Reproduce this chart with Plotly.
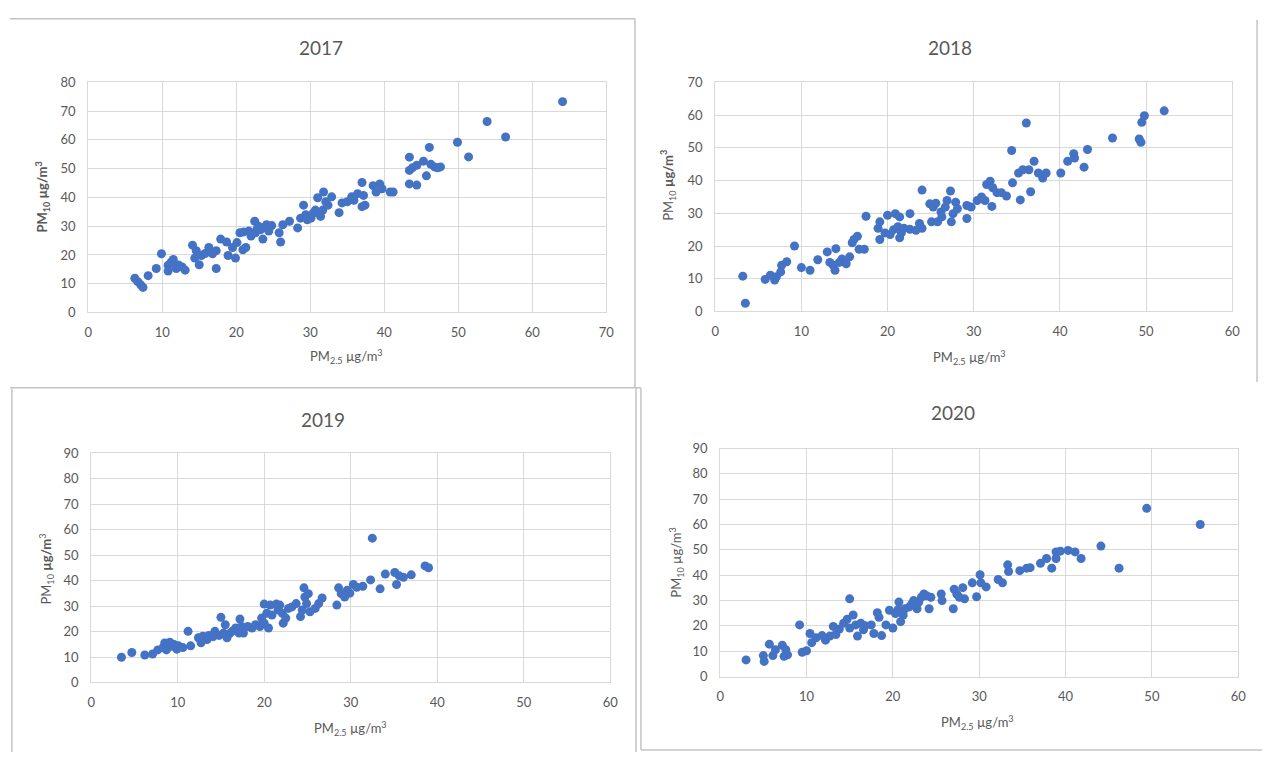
import plotly.graph_objects as go

# ---------------- data ----------------
years = ["2017", "2018", "2019", "2020"]

pm25_2017 = [6.3, 6.7, 7.1, 7.4, 8.1, 9.2, 9.9, 10.8, 10.8, 11.2, 11.5, 11.9, 12.7, 13.1, 14.1, 14.4,
             14.6, 15.0, 15.3, 16.3, 16.8, 17.3, 17.3, 17.9, 18.7, 18.9, 19.5, 19.9, 20.1, 20.5, 20.9,
             21.3, 21.7, 22.0, 22.5, 22.6, 23.0, 23.3, 23.6, 24.1, 24.4, 24.8, 25.8, 26.0, 26.3, 27.2,
             28.3, 28.7, 29.1, 29.4, 29.6, 30.1, 30.4, 30.7, 31.0, 31.4, 31.7, 31.8, 32.1, 32.4, 32.9,
             33.9, 34.3, 35.0, 35.6, 35.9, 36.4, 37.0, 37.0, 37.4, 37.2, 38.5, 38.9, 39.4, 39.7, 40.8,
             41.2, 43.4, 43.4, 43.4, 43.8, 44.4, 44.4, 45.3, 45.7, 46.1, 46.3, 46.8, 47.2, 47.6, 49.9,
             51.4, 53.9, 56.4, 64.1, 21.0, 22.8, 23.8, 12.2, 15.8]
pm10_2017 = [11.9, 10.7, 9.6, 8.7, 12.8, 15.3, 20.4, 14.4, 16.4, 17.5, 18.4, 15.3, 15.8, 14.7, 23.4, 18.9,
             21.5, 16.6, 19.8, 22.6, 20.4, 15.3, 21.5, 25.5, 24.5, 19.8, 22.6, 18.9, 24.3, 27.7, 21.8,
             22.6, 28.3, 26.6, 31.7, 27.7, 30.0, 28.8, 25.5, 30.5, 28.3, 30.2, 27.7, 24.5, 30.5, 31.7,
             29.4, 32.8, 37.3, 34.0, 32.2, 32.8, 34.5, 35.6, 39.9, 33.4, 35.6, 41.9, 38.5, 37.3, 40.2,
             34.7, 38.1, 38.5, 40.2, 39.0, 41.3, 45.2, 36.8, 37.3, 40.7, 44.1, 41.9, 44.7, 43.0, 41.9,
             41.9, 54.0, 44.7, 49.4, 50.3, 44.3, 51.2, 52.6, 47.5, 57.4, 51.5, 50.6, 50.3, 50.6, 59.2,
             54.1, 66.4, 61.0, 73.3, 28.0, 29.0, 29.5, 16.5, 20.5]

pm25_2018 = [3.2, 3.5, 5.8, 6.4, 6.9, 7.1, 7.6, 7.7, 8.3, 9.2, 10.0, 11.0, 11.9, 13.0, 13.3, 13.7, 14.0,
             13.9, 14.4, 14.7, 15.2, 15.6, 15.9, 16.1, 16.5, 16.7, 17.3, 17.5, 18.9, 19.1, 19.1, 19.7,
             20.0, 20.3, 20.7, 20.9, 21.2, 21.4, 21.4, 21.6, 21.9, 22.6, 22.6, 23.3, 23.7, 24.0, 24.0,
             24.9, 25.1, 25.3, 25.6, 25.8, 26.2, 26.3, 26.7, 26.9, 27.3, 27.4, 27.6, 27.9, 28.1, 29.2,
             29.2, 29.7, 30.4, 30.9, 31.3, 31.5, 31.9, 32.1, 32.2, 32.7, 33.2, 33.8, 34.4, 34.5, 35.2,
             35.4, 35.7, 36.1, 36.4, 36.6, 37.0, 37.5, 38.0, 38.4, 40.1, 40.9, 41.6, 41.7, 42.8, 43.2,
             46.1, 49.2, 49.4, 49.5, 49.8, 52.1]
pm10_2018 = [10.8, 2.5, 9.8, 11.1, 9.6, 10.6, 12.1, 14.1, 15.2, 20.0, 13.4, 12.6, 15.8, 18.2, 15.0, 14.1,
             19.2, 12.6, 15.0, 16.0, 14.6, 16.7, 21.0, 22.0, 23.0, 19.0, 19.0, 29.1, 25.4, 27.4, 22.0,
             24.0, 29.4, 23.5, 25.0, 29.9, 25.9, 28.9, 22.5, 24.0, 25.4, 29.9, 25.1, 24.8, 26.9, 25.4,
             37.1, 32.9, 27.4, 31.9, 33.1, 27.4, 30.4, 28.9, 31.9, 33.9, 36.8, 27.4, 29.9, 33.4, 31.4,
             32.4, 28.4, 31.9, 33.9, 35.0, 33.9, 38.8, 39.8, 32.1, 37.8, 36.3, 36.3, 35.3, 49.2, 39.3,
             42.3, 34.1, 43.3, 57.6, 43.3, 36.6, 45.9, 42.3, 40.8, 42.3, 42.3, 45.9, 48.2, 46.9, 44.1,
             49.5, 53.0, 52.7, 51.7, 57.8, 59.8, 61.3]

pm25_2019 = [3.5, 4.7, 6.2, 7.1, 7.7, 8.3, 8.5, 8.7, 9.1, 9.3, 9.6, 9.9, 10.1, 10.6, 11.2, 11.5, 12.4,
             12.7, 12.9, 13.4, 13.6, 14.1, 14.3, 14.8, 15.0, 15.3, 15.5, 15.7, 16.0, 16.3, 16.7, 17.1,
             17.2, 17.4, 17.6, 18.1, 18.6, 19.0, 19.5, 19.7, 20.0, 20.0, 20.3, 20.5, 20.7, 20.9, 21.4,
             21.6, 21.8, 22.1, 22.2, 22.5, 22.8, 23.2, 23.7, 24.2, 24.4, 24.6, 24.7, 24.9, 25.1, 25.3,
             25.9, 26.7, 26.3, 28.4, 28.6, 28.9, 29.3, 29.6, 29.9, 30.3, 30.7, 31.4, 32.3, 32.5, 33.4,
             34.0, 35.1, 35.3, 35.6, 36.1, 37.0, 38.6, 39.0]
pm10_2019 = [9.9, 11.8, 10.8, 11.2, 12.8, 13.7, 15.5, 12.8, 15.8, 14.2, 14.9, 13.1, 14.4, 13.7, 20.1,
             14.4, 17.6, 15.6, 18.2, 16.9, 18.5, 18.0, 20.1, 18.5, 25.6, 19.4, 22.7, 17.6, 19.2, 20.1,
             21.4, 19.4, 24.9, 22.0, 19.4, 22.0, 21.4, 22.7, 22.0, 25.3, 30.8, 23.3, 27.2, 21.4, 30.4,
             26.5, 30.8, 28.5, 30.4, 27.2, 23.3, 25.3, 29.1, 29.7, 31.0, 25.9, 28.5, 37.2, 33.6, 31.0,
             34.9, 27.8, 29.1, 33.2, 31.0, 30.4, 37.2, 34.9, 33.6, 36.2, 35.1, 38.5, 37.4, 37.8, 40.3,
             56.7, 36.8, 42.6, 43.2, 38.5, 41.9, 41.3, 42.3, 45.8, 45.1]

pm25_2020 = [3.0, 5.0, 5.1, 5.7, 6.1, 6.4, 7.2, 7.4, 7.6, 7.8, 9.2, 9.5, 10.0, 10.4, 10.6, 11.1, 11.8,
             12.2, 12.7, 13.1, 13.4, 13.8, 14.3, 14.7, 15.0, 15.0, 15.4, 15.7, 15.9, 16.3, 16.6, 16.8,
             17.5, 17.8, 18.2, 18.4, 18.7, 19.2, 19.6, 20.0, 20.3, 20.6, 20.7, 20.9, 21.2, 21.4, 21.9,
             22.2, 22.4, 22.8, 23.0, 23.3, 23.6, 23.9, 24.2, 24.4, 25.6, 25.7, 27.0, 27.1, 27.4, 27.7,
             28.1, 28.3, 29.2, 29.7, 30.1, 30.2, 30.8, 32.2, 32.7, 33.3, 33.4, 34.7, 35.5, 35.9, 37.1,
             37.8, 38.4, 38.9, 38.9, 39.4, 40.3, 41.1, 41.8, 44.1, 46.2, 49.4, 55.6]
pm10_2020 = [6.6, 8.3, 6.0, 12.8, 8.3, 10.6, 12.4, 8.0, 10.6, 8.6, 20.4, 9.6, 10.2, 17.0, 13.4, 15.3,
             16.2, 14.4, 16.0, 19.8, 16.6, 18.8, 21.1, 22.6, 30.7, 19.2, 24.3, 20.4, 16.0, 21.1, 18.5,
             20.1, 20.4, 17.0, 25.2, 23.4, 16.2, 20.4, 26.2, 19.2, 24.9, 26.4, 29.4, 21.7, 24.3, 26.8,
             27.5, 28.7, 30.0, 26.8, 29.4, 31.3, 32.6, 31.9, 26.8, 31.3, 32.6, 30.0, 26.8, 34.5, 32.6,
             31.3, 35.1, 30.7, 37.0, 31.5, 40.2, 37.0, 35.4, 38.3, 37.0, 44.1, 41.5, 41.8, 42.8, 43.0,
             44.7, 46.6, 42.8, 49.2, 46.6, 49.5, 49.8, 49.2, 46.6, 51.5, 42.8, 66.4, 60.0]

x_data = [pm25_2017, pm25_2018, pm25_2019, pm25_2020]
y_data = [pm10_2017, pm10_2018, pm10_2019, pm10_2020]
x_max = [70, 60, 60, 60]
y_max = [80, 70, 90, 90]
x_ticks = [list(range(0, 71, 10)), list(range(0, 61, 10)), list(range(0, 61, 10)), list(range(0, 61, 10))]
y_ticks = [list(range(0, 81, 10)), list(range(0, 71, 10)), list(range(0, 91, 10)), list(range(0, 91, 10))]

x_title = "PM<sub>2.5</sub> µg/m<sup>3</sup>"
y_titles = ["<b>PM<sub>10</sub> µg/m<sup>3</sup></b>",
            "PM<sub>10</sub> <b>µg/m<sup>3</sup></b>",
            "PM<sub>10</sub> <b>µg/m</b><sup>3</sup>",
            "PM<sub>10</sub> µg/m<sup>3</sup>"]

# ---------------- layout (pixel geometry) ----------------
W, H = 1270, 760
FONT = "Lato, 'Open Sans', sans-serif"
GRID = "#D9D9D9"
TXT = "#595959"
BLUE = "#4472C4"

def px(x):
    return x / W

def py(y):
    return 1 - y / H

# plot areas in pixels: (left, right, top, bottom)
areas = [(85, 608, 76, 311), (718, 1240, 76, 310), (88, 612, 455, 689), (723, 1246, 450, 683)]
title_pos = [(320, 40), (955, 40), (322, 420), (958, 413)]
xtitle_pos = [(346, 356), (975, 357), (350, 736), (983, 730)]
ytitle_pos = [(39, 193), (670, 181), (43, 573), (678, 567)]

fig = go.Figure()
annotations = []
for i in range(4):
    sfx = "" if i == 0 else str(i + 1)
    fig.add_trace(go.Scatter(
        x=x_data[i], y=y_data[i], mode="markers",
        marker=dict(color=BLUE, size=9, line=dict(width=0)),
        xaxis="x" + sfx, yaxis="y" + sfx, showlegend=False,
    ))
    l, r, t, b = areas[i]
    axis_common = dict(showgrid=True, gridcolor=GRID, gridwidth=1, zeroline=False,
                       showline=True, linecolor=GRID, linewidth=1, mirror=True,
                       ticks="", tickfont=dict(family=FONT, size=13, color=TXT))
    fig.layout["xaxis" + sfx] = dict(domain=[px(l), px(r)], range=[0, x_max[i]],
                                     tickvals=x_ticks[i], anchor="y" + sfx,
                                     ticklabelstandoff=8, **axis_common)
    fig.layout["yaxis" + sfx] = dict(domain=[py(b), py(t)], range=[0, y_max[i]],
                                     tickvals=y_ticks[i], anchor="x" + sfx,
                                     ticklabelstandoff=9, **axis_common)
    tx, ty = title_pos[i]
    annotations.append(dict(text=years[i], x=px(tx), y=py(ty), xref="paper", yref="paper",
                            showarrow=False, xanchor="center", yanchor="middle",
                            font=dict(family=FONT, size=19, color=TXT)))
    ax_, ay_ = xtitle_pos[i]
    annotations.append(dict(text=x_title, x=px(ax_), y=py(ay_), xref="paper", yref="paper",
                            showarrow=False, xanchor="center", yanchor="middle",
                            font=dict(family=FONT, size=13, color=TXT)))
    yx, yy = ytitle_pos[i]
    annotations.append(dict(text=y_titles[i], x=px(yx), y=py(yy), xref="paper", yref="paper",
                            showarrow=False, xanchor="center", yanchor="middle", textangle=-90,
                            font=dict(family=FONT, size=13, color=TXT)))

# panel frame lines (pixel coordinates)
frame_lines = [
    (6, 11, 637, 11), (637, 11, 637, 388), (6, 388, 643, 388),
    (1265, 12, 1265, 382),
    (8, 389, 8, 760), (638, 388, 638, 760),
    (643, 388, 643, 758), (643, 758, 1270, 758),
]
shapes = []
for (x0, y0, x1, y1) in frame_lines:
    shapes.append(dict(type="line", xref="paper", yref="paper",
                       x0=px(x0), y0=py(y0), x1=px(x1), y1=py(y1),
                       line=dict(color="#C4C4C4", width=1.5)))

fig.update_layout(width=W, height=H, margin=dict(l=0, r=0, t=0, b=0),
                  paper_bgcolor="white", plot_bgcolor="white",
                  annotations=annotations, shapes=shapes,
                  font=dict(family=FONT, color=TXT))

fig.write_html("out.html")
